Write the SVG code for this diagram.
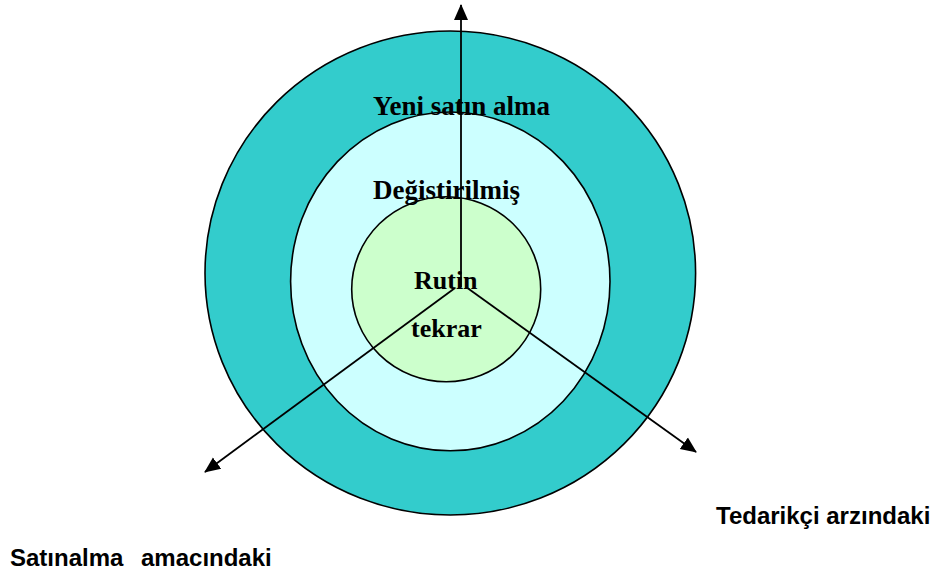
<svg xmlns="http://www.w3.org/2000/svg" width="941" height="576" viewBox="0 0 941 576">
  <style>
    .ring { stroke: #000; stroke-width: 1.6; }
    .lbl { font-family: "Liberation Serif", "Times New Roman", serif; font-weight: bold; font-size: 26px; fill: #000; }
    .big { font-size: 27px; }
    .axis { font-family: "Liberation Sans", Arial, sans-serif; font-weight: bold; font-size: 24px; fill: #000; }
    .conn { stroke: #000; stroke-width: 1.8; fill: none; marker-end: url(#arrow); }
  </style>
  <defs>
    <marker id="arrow" markerUnits="userSpaceOnUse" markerWidth="16" markerHeight="16" viewBox="0 0 16 16" refX="15" refY="8" orient="auto">
      <path d="M0,1 L16,8 L0,15 Z" fill="#000"/>
    </marker>
  </defs>
  <rect width="941" height="576" fill="#fff"/>
  <g id="outer-ring">
    <ellipse class="ring" cx="450.3" cy="273" rx="245.3" ry="242" fill="#33CCCC"/>
  </g>
  <g id="middle-ring">
    <ellipse class="ring" cx="450.3" cy="281.4" rx="159.7" ry="169.4" fill="#CCFFFF"/>
  </g>
  <g id="inner-ring">
    <ellipse class="ring" cx="446.2" cy="289.2" rx="94.5" ry="92.5" fill="#CCFFCC"/>
  </g>
  <g id="connectors">
    <line class="conn" x1="461" y1="287" x2="461" y2="5"/>
    <line class="conn" x1="455" y1="288" x2="205" y2="472"/>
    <line class="conn" x1="466" y1="287" x2="696" y2="452"/>
  </g>
  <g id="labels">
    <text class="lbl big" x="373" y="115">Yeni satın alma</text>
    <text class="lbl big" x="373" y="199">Değistirilmiş</text>
    <text class="lbl" x="414" y="289">Rutin</text>
    <text class="lbl" x="411" y="337">tekrar</text>
  </g>
  <g id="axis-satinalma">
    <text class="axis" x="10" y="566">Satınalma</text>
    <text class="axis" x="141" y="566">amacındaki</text>
  </g>
  <g id="axis-tedarikci">
    <text class="axis" x="716" y="524">Tedarikçi arzındaki</text>
  </g>
</svg>
